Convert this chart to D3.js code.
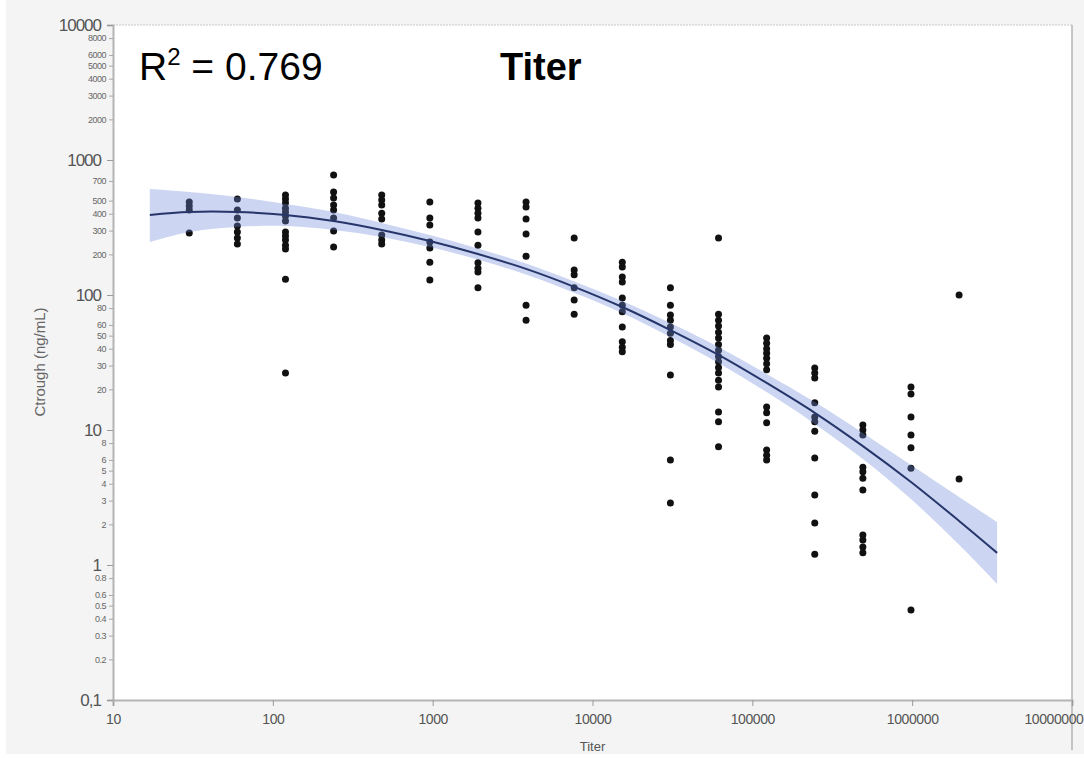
<!DOCTYPE html>
<html>
<head>
<meta charset="utf-8">
<script src="https://cdn.jsdelivr.net/npm/d3@7.9.0/dist/d3.min.js"></script>
<style>
  html, body { margin: 0; padding: 0; background: #ffffff; }
  svg { display: block; font-family: "Liberation Sans", Arial, sans-serif; }
</style>
</head>
<body>
<svg id="chart" width="1084" height="758"></svg>
<script>
// titer groups (x) and measured Ctrough values at each titer
const titers = [30, 60, 120, 240, 480, 960, 1920, 3840, 7680, 15360, 30720, 61440, 122880, 245760, 491520, 983040, 1966080];
const ctroughByTiter = [
  [489, 456, 426, 288],
  [514, 426, 372, 324, 293, 264, 239],
  [551, 514, 480, 440, 412, 385, 353, 293, 274, 255, 234, 219, 131, 26.4],
  [774, 579, 524, 464, 426, 372, 298, 227],
  [551, 506, 464, 404, 365, 278, 255, 239],
  [489, 372, 330, 247, 223, 175, 129],
  [480, 440, 404, 372, 293, 234, 173, 158, 148, 113],
  [489, 448, 365, 283, 194, 84, 65],
  [264, 153, 141, 113, 92, 72],
  [175, 161, 136, 125, 95, 84, 75, 58, 45, 41, 38],
  [113, 84, 71, 65, 58, 52, 46, 43, 25.5, 6.0, 2.88],
  [264, 72, 65, 59, 53, 48, 43, 39, 35, 32, 29, 26.4, 23.4, 20.8, 13.6, 11.5, 7.5],
  [48, 44, 40, 37, 34, 31, 28, 14.8, 13.4, 11.3, 7.1, 6.5, 6.0],
  [28.8, 26.4, 24.3, 15.9, 12.5, 11.5, 9.8, 6.2, 3.3, 2.05, 1.2],
  [10.9, 10, 9.2, 5.3, 4.9, 4.4, 3.6, 1.67, 1.53, 1.36, 1.23],
  [20.8, 18.5, 12.5, 9.2, 7.4, 5.2, 0.464],
  [100, 4.34]
];

// fitted curve and its confidence band
const fitTiter = [17, 30, 60, 120, 240, 480, 960, 1920, 3840, 7680, 15360, 30720, 61440, 122880, 245760, 491520, 983040, 1966080, 3400000];
const fitValue = [392, 412, 412, 392, 353, 303, 251, 201, 156, 115, 81.5, 55, 36, 22.3, 13.4, 7.6, 4.12, 2.12, 1.23];
const fitUpper = [610, 580, 532, 472, 412, 342, 278, 221, 171, 126, 90.3, 62, 41.2, 26, 16.1, 9.5, 5.5, 3.19, 2.08];
const fitLower = [247, 293, 319, 324, 303, 269, 227, 183, 142, 104, 73.6, 48.9, 31.4, 19.1, 11.1, 6.1, 3.08, 1.41, 0.723];

// axis ticks
const xTicks = [10, 100, 1000, 10000, 100000, 1000000, 10000000];
const yMajor = [0.1, 1, 10, 100, 1000, 10000];
const yMajorLabels = ['0,1', '1', '10', '100', '1000', '10000'];
const yMinorLabeled = [
  0.2, 0.3, 0.4, 0.5, 0.6, 0.8,
  2, 3, 4, 5, 6, 8,
  20, 30, 40, 50, 60, 80,
  200, 300, 400, 500, 700,
  2000, 3000, 4000, 5000, 6000, 8000
];

const svg = d3.select('#chart');
const plotLeft = 113, plotRight = 1072, plotTop = 25, plotBottom = 700;

const x = d3.scaleLog().domain([10, 10000000]).range([plotLeft, plotRight]);
const y = d3.scaleLog().domain([0.1, 10000]).range([plotBottom, plotTop]);

// grey surround, white plot area
svg.append('rect').attr('x', 6).attr('y', 0).attr('width', 1078).attr('height', 754).attr('fill', '#f4f4f4');
svg.append('rect').attr('x', plotLeft).attr('y', plotTop).attr('width', plotRight - plotLeft).attr('height', plotBottom - plotTop).attr('fill', '#ffffff');

// frame
svg.append('line').attr('x1', plotLeft).attr('x2', plotRight).attr('y1', plotTop).attr('y2', plotTop)
  .attr('stroke', '#c8c8c8').attr('stroke-width', 1).attr('stroke-dasharray', '2,1');
svg.append('line').attr('x1', plotRight).attr('x2', plotRight).attr('y1', plotTop).attr('y2', 750)
  .attr('stroke', '#b4b4b4').attr('stroke-width', 1.5);

// points
const points = [];
titers.forEach((t, i) => ctroughByTiter[i].forEach((v) => points.push({ t, v })));

svg.append('g')
  .selectAll('circle')
  .data(points)
  .join('circle')
  .attr('cx', (d) => x(d.t))
  .attr('cy', (d) => y(d.v))
  .attr('r', 3.5)
  .attr('fill', '#111111');

// confidence band (drawn over the points, semi transparent)
const fit = fitTiter.map((t, i) => ({ t, v: fitValue[i], lo: fitLower[i], hi: fitUpper[i] }));

const area = d3.area()
  .x((d) => x(d.t))
  .y0((d) => y(d.lo))
  .y1((d) => y(d.hi))
  .curve(d3.curveCatmullRom);

svg.append('path')
  .datum(fit)
  .attr('d', area)
  .attr('fill', 'rgb(110,135,215)')
  .attr('fill-opacity', 0.35);

const line = d3.line()
  .x((d) => x(d.t))
  .y((d) => y(d.v))
  .curve(d3.curveCatmullRom);

svg.append('path')
  .datum(fit)
  .attr('d', line)
  .attr('fill', 'none')
  .attr('stroke', '#26366a')
  .attr('stroke-width', 2);

// x axis
const xAxis = svg.append('g')
  .attr('transform', `translate(0,${plotBottom})`)
  .call(d3.axisBottom(x).tickValues(xTicks).tickFormat(d3.format('d')).tickSize(6).tickPadding(8));
xAxis.select('.domain').attr('stroke', '#b4b4b4').attr('stroke-width', 2);
xAxis.selectAll('.tick line').attr('stroke', '#9a9a9a');
xAxis.selectAll('.tick text').attr('fill', '#555').style('font-size', '14px').attr('letter-spacing', '-0.4');
xAxis.selectAll('.tick text').filter((d) => d === 10000000)
  .attr('text-anchor', 'end').attr('x', 1083 - plotRight);

// y axis: major ticks
const yAxis = svg.append('g')
  .attr('transform', `translate(${plotLeft},0)`)
  .call(d3.axisLeft(y).tickValues(yMajor).tickFormat((d, i) => yMajorLabels[i]).tickSize(6).tickPadding(6));
yAxis.select('.domain').attr('stroke', '#b4b4b4').attr('stroke-width', 2);
yAxis.selectAll('.tick line').attr('stroke', '#9a9a9a');
yAxis.selectAll('.tick text').attr('fill', '#555').style('font-size', '17px').attr('letter-spacing', '-1');

// y axis: minor ticks
const yMinor = svg.append('g')
  .attr('transform', `translate(${plotLeft},0)`)
  .call(d3.axisLeft(y).tickValues(yMinorLabeled).tickFormat((d) => String(d)).tickSize(4).tickPadding(3));
yMinor.select('.domain').remove();
yMinor.selectAll('.tick line').attr('stroke', '#a8a8a8');
yMinor.selectAll('.tick text').attr('fill', '#666').style('font-size', '9px').attr('letter-spacing', '-0.5');

// axis titles
svg.append('text')
  .attr('x', x(10000)).attr('y', 751)
  .attr('text-anchor', 'middle')
  .attr('fill', '#555').style('font-size', '13px')
  .text('Titer');

svg.append('text')
  .attr('transform', `translate(45,362) rotate(-90)`)
  .attr('text-anchor', 'middle')
  .attr('fill', '#666').style('font-size', '15px')
  .text('Ctrough (ng/mL)');

// annotations
const r2 = svg.append('text')
  .attr('x', 139).attr('y', 80)
  .attr('fill', '#000').style('font-size', '39px');
r2.append('tspan').text('R');
r2.append('tspan').attr('dy', -15).style('font-size', '24px').text('2');
r2.append('tspan').attr('dy', 15).text(' = 0.769');

svg.append('text')
  .attr('x', 500).attr('y', 80)
  .attr('fill', '#000').style('font-size', '38px').style('font-weight', 'bold')
  .text('Titer');
</script>
</body>
</html>
